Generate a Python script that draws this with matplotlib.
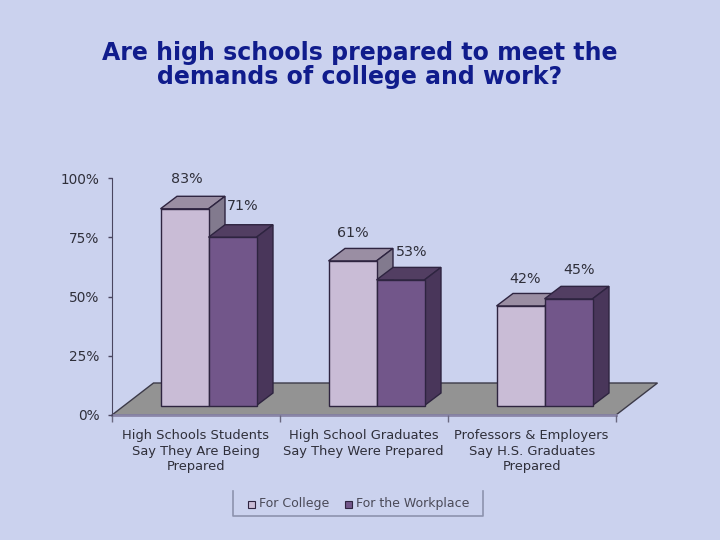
import matplotlib.pyplot as plt
import numpy as np
from matplotlib.patches import Polygon, Rectangle

categories = ['High Schools Students\nSay They Are Being\nPrepared',
              'High School Graduates\nSay They Were Prepared',
              'Professors & Employers\nSay H.S. Graduates\nPrepared']
college = [83, 61, 42]
workplace = [71, 53, 45]
series_names = ['For College', 'For the Workplace']
y_ticks = [0, 25, 50, 75, 100]

bg = '#CBD2EE'
edge = '#2E2440'
front = ['#C9BCD6', '#72568A']
top = ['#9A8EA3', '#523E62']
side = ['#827A8E', '#49365A']
text_col = '#2F2F3A'

fig = plt.figure(figsize=(7.2, 5.4), dpi=100, facecolor=bg)
# axes box = the plot area in pixels, x is in categories, y in percent
ax = fig.add_axes([112 / 720, 125 / 540, 504 / 720, 237 / 540])
ax.set_xlim(0, 3)
ax.set_ylim(0, 100)
ax.patch.set_alpha(0)

bar_w = 48 / 168
dx, dy = 16.5 / 168, 12.5 / 2.37       # bar depth
floor_dx, floor_dy = 41.5 / 168, 32 / 2.37
base = 9.5 / 2.37                      # bars stand a bit behind the floor front edge

# floor
ax.add_patch(Polygon([(0, 0), (3, 0), (3 + floor_dx, floor_dy), (floor_dx, floor_dy)],
                     closed=True, fc='#939393', ec='#3C3A48', lw=1, clip_on=False, zorder=1))
ax.plot([0, 3], [0, 0], color='#8A86A8', lw=2, clip_on=False, zorder=1.5)

x = np.arange(3) + 48.5 / 168
for s, vals in enumerate([college, workplace]):
    lefts = x + s * bar_w
    ax.bar(lefts, vals, width=bar_w, bottom=base, align='edge', color=front[s],
           edgecolor=edge, linewidth=1, clip_on=False, zorder=3 + s)
    for l, v in zip(lefts, vals):
        r = l + bar_w
        t = base + v
        ax.add_patch(Polygon([(l, t), (r, t), (r + dx, t + dy), (l + dx, t + dy)], closed=True,
                             fc=top[s], ec=edge, lw=1, clip_on=False, zorder=2.5 + s))
        ax.add_patch(Polygon([(r, base), (r + dx, base + dy), (r + dx, t + dy), (r, t)], closed=True,
                             fc=side[s], ec=edge, lw=1, clip_on=False, zorder=2.5 + s))

# value labels, nudged one by one like the original (pixels from bar front top centre)
nudge = [[(2, 30), (10, 31)],
         [(0, 28), (11, 28)],
         [(5, 27), (11, 29)]]
for i in range(3):
    for s, v in enumerate([college[i], workplace[i]]):
        ox, oy = nudge[i][s]
        ax.text(x[i] + s * bar_w + bar_w / 2 + ox / 168, base + v + oy / 2.37,
                '%d%%' % v, ha='center', va='center', fontsize=10.3, color=text_col, zorder=6)

for sp in ['top', 'right']:
    ax.spines[sp].set_visible(False)
ax.spines['bottom'].set_visible(False)
ax.spines['left'].set_color('#4A4660')
ax.set_yticks(y_ticks)
ax.set_yticklabels(['%d%%' % t for t in y_ticks], fontsize=9.8, color=text_col)
ax.tick_params(axis='y', direction='out', length=3, width=1, color='#4A4660', pad=6)
ax.set_xticks([0, 1, 2, 3])
ax.set_xticklabels([])
ax.tick_params(axis='x', direction='out', length=5, width=1, color='#6A6880')
for i, c in enumerate(categories):
    ax.text(i + 0.498, -6.1, c, ha='center', va='top', fontsize=9.4, color=text_col,
            linespacing=1.25, clip_on=False)

fig.text(360 / 720, 1 - 65 / 540, 'Are high schools prepared to meet the\ndemands of college and work?',
         ha='center', va='center', fontsize=17, fontweight='bold', color='#101C8C', linespacing=1.0)

# legend box: only left, bottom and right sides are drawn
fig.add_artist(plt.Line2D(np.array([233, 233, 483, 483]) / 720,
                          1 - np.array([491, 516, 516, 491]) / 540,
                          color='#8D93AE', lw=1.2))
fig.add_artist(Rectangle((248 / 720, 1 - 508 / 540), 7 / 720, 7 / 540, transform=fig.transFigure,
                         fc=front[0], ec=edge, lw=0.8))
fig.add_artist(Rectangle((345 / 720, 1 - 508 / 540), 7 / 720, 7 / 540, transform=fig.transFigure,
                         fc=front[1], ec=edge, lw=0.8))
fig.text(259 / 720, 1 - 503.5 / 540, series_names[0], ha='left', va='center', fontsize=9, color='#4A4A58')
fig.text(356 / 720, 1 - 503.5 / 540, series_names[1], ha='left', va='center', fontsize=9, color='#4A4A58')

fig.savefig('out.png', dpi=100, facecolor=bg)
